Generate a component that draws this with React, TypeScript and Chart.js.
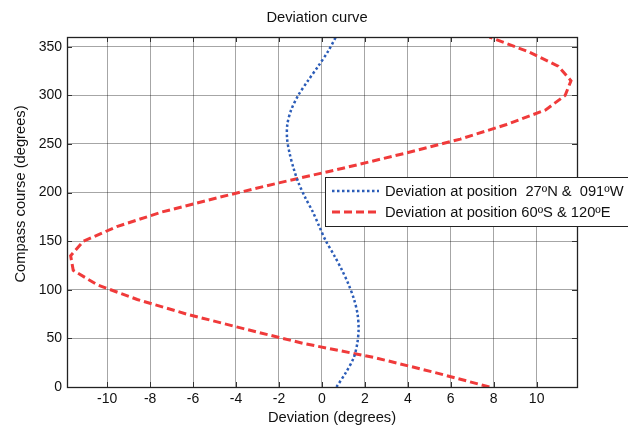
import React, { useEffect, useRef } from "react";
import { Chart, registerables } from "chart.js";

Chart.register(...registerables);

// Compass headings (degrees) at which the deviation was tabulated
const courses = [0, 15, 30, 45, 60, 75, 90, 105, 120, 135, 150, 165, 180, 195, 210, 225, 240, 255, 270, 285, 300, 315, 330, 345, 360];

// Deviation (degrees) at 27ºN & 091ºW
const deviationNorth = [0.68, 1.12, 1.48, 1.65, 1.71, 1.66, 1.5, 1.25, 0.94, 0.58, 0.19, -0.12, -0.42, -0.78, -1.09, -1.32, -1.5, -1.62, -1.61, -1.43, -1.1, -0.65, -0.17, 0.28, 0.65];

// Deviation (degrees) at 60ºS & 120ºE
const deviationSouth = [7.8, 5.25, 2.5, -0.9, -3.65, -6.3, -8.6, -10.45, -11.58, -11.7, -11.1, -9.55, -7.45, -4.8, -2.0, 0.98, 3.8, 6.45, 8.6, 10.42, 11.33, 11.6, 11.0, 9.6, 7.8];

const xTicks = [-10, -8, -6, -4, -2, 0, 2, 4, 6, 8, 10];
const yTicks = [0, 50, 100, 150, 200, 250, 300, 350];

const seriesLabels = [
  "Deviation at position  27ºN &  091ºW",
  "Deviation at position 60ºS & 120ºE",
];

const FONT = "'Liberation Sans', Arial, sans-serif";
const BLUE = "#2b5cb8";
const RED = "#f03a3a";

const decorations = {
  id: "decorations",
  afterDraw(chart: any) {
    const ctx = chart.ctx as CanvasRenderingContext2D;
    const { left, top, right, bottom } = chart.chartArea;
    const xs = chart.scales.x;
    const ys = chart.scales.y;
    ctx.save();

    // inward tick marks on all four sides
    ctx.strokeStyle = "#333";
    ctx.lineWidth = 1;
    ctx.beginPath();
    xTicks.forEach((v) => {
      const px = Math.round(xs.getPixelForValue(v)) + 0.5;
      ctx.moveTo(px, bottom);
      ctx.lineTo(px, bottom - 5);
      ctx.moveTo(px, top);
      ctx.lineTo(px, top + 5);
    });
    yTicks.forEach((v) => {
      const py = Math.round(ys.getPixelForValue(v)) + 0.5;
      ctx.moveTo(left, py);
      ctx.lineTo(left + 5, py);
      ctx.moveTo(right, py);
      ctx.lineTo(right - 5, py);
    });
    ctx.stroke();

    // plot frame
    ctx.strokeStyle = "#222";
    ctx.lineWidth = 1.3;
    ctx.strokeRect(Math.round(left) + 0.5, Math.round(top) + 0.5, Math.round(right - left), Math.round(bottom - top));

    // titles
    ctx.fillStyle = "#111";
    ctx.font = `14.7px ${FONT}`;
    ctx.textAlign = "center";
    ctx.textBaseline = "middle";
    ctx.fillText("Deviation curve", 317, 18);
    ctx.fillText("Deviation (degrees)", 332, 418);
    ctx.save();
    ctx.translate(21, 194);
    ctx.rotate(-Math.PI / 2);
    ctx.fillText("Compass course (degrees)", 0, 0);
    ctx.restore();

    // legend box
    const bx = 325.5, by = 177.5, bw = 320, bh = 49;
    ctx.fillStyle = "#fff";
    ctx.fillRect(bx, by, bw, bh);
    ctx.strokeStyle = "#222";
    ctx.lineWidth = 1;
    ctx.strokeRect(bx, by, bw, bh);

    const rows = [
      { y: 191, color: BLUE, dash: [2.5, 2.5], width: 2.5 },
      { y: 212, color: RED, dash: [8, 4], width: 3 },
    ];
    rows.forEach((r, i) => {
      ctx.strokeStyle = r.color;
      ctx.lineWidth = r.width;
      ctx.setLineDash(r.dash);
      ctx.beginPath();
      ctx.moveTo(332, r.y);
      ctx.lineTo(379, r.y);
      ctx.stroke();
      ctx.setLineDash([]);
      ctx.fillStyle = "#111";
      ctx.textAlign = "left";
      ctx.font = `14.7px ${FONT}`;
      ctx.fillText(seriesLabels[i], 385, r.y + 0.5);
    });

    ctx.restore();
  },
};

export default function App() {
  const canvasRef = useRef<HTMLCanvasElement | null>(null);

  useEffect(() => {
    if (!canvasRef.current) return;
    const toPoints = (vals: number[]) => vals.map((v, i) => ({ x: v, y: courses[i] }));

    const chart = new Chart(canvasRef.current, {
      type: "scatter",
      data: {
        datasets: [
          {
            label: seriesLabels[0],
            data: toPoints(deviationNorth),
            showLine: true,
            borderColor: BLUE,
            borderWidth: 2.5,
            borderDash: [2.5, 2.5],
            pointRadius: 0,
            tension: 0.3,
          },
          {
            label: seriesLabels[1],
            data: toPoints(deviationSouth),
            showLine: true,
            borderColor: RED,
            borderWidth: 3,
            borderDash: [8, 4],
            pointRadius: 0,
            tension: 0,
          },
        ],
      },
      options: {
        responsive: false,
        animation: false,
        layout: { padding: { top: 37, right: 51, left: 0, bottom: 0 } },
        plugins: {
          legend: { display: false },
          title: { display: false },
          tooltip: { enabled: false },
        },
        scales: {
          x: {
            type: "linear",
            min: -11.87,
            max: 11.88,
            afterFit: (s: any) => { s.height = 41; },
            afterBuildTicks: (s: any) => { s.ticks = xTicks.map((v) => ({ value: v })); },
            ticks: {
              includeBounds: false,
              padding: 4,
              color: "#111",
              font: { family: FONT, size: 14 },
            },
            grid: { color: "rgba(0,0,0,0.35)", lineWidth: 1, drawTicks: false },
            border: { display: false },
          },
          y: {
            type: "linear",
            min: 0,
            max: 360,
            afterFit: (s: any) => { s.width = 67; },
            afterBuildTicks: (s: any) => { s.ticks = yTicks.map((v) => ({ value: v })); },
            ticks: {
              includeBounds: false,
              padding: 5,
              color: "#111",
              font: { family: FONT, size: 14 },
            },
            grid: { color: "rgba(0,0,0,0.35)", lineWidth: 1, drawTicks: false },
            border: { display: false },
          },
        },
      },
      plugins: [decorations],
    });

    return () => chart.destroy();
  }, []);

  return (
    <div style={{ position: "absolute", left: 0, top: 0, width: 628, height: 428, background: "#fff" }}>
      <canvas ref={canvasRef} width={628} height={428} />
    </div>
  );
}
